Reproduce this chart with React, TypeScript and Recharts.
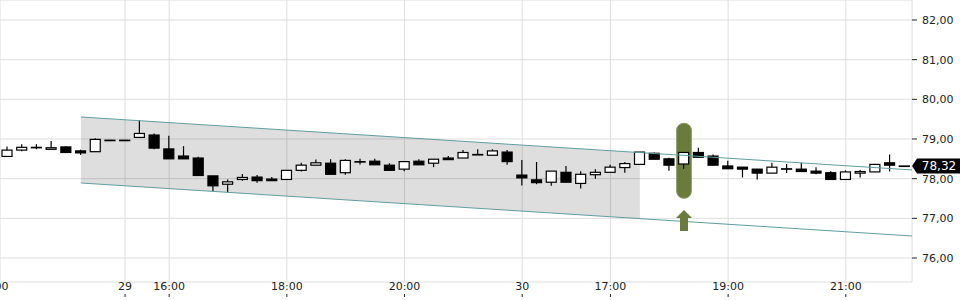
import React from 'react';
import {
  ComposedChart,
  Bar,
  Area,
  XAxis,
  YAxis,
  CartesianGrid,
  ReferenceLine,
  ReferenceArea,
  ReferenceDot
} from 'recharts';

// 15-minute candles
const OPEN = [
  78.56, 78.72, 78.79, 78.74, 78.80, 78.70, 78.68, 78.97, 78.97, 79.04,
  79.10, 78.75, 78.57, 78.52, 78.07, 77.86, 77.98, 78.04, 77.99, 77.98,
  78.21, 78.34, 78.39, 78.15, 78.43, 78.44, 78.34, 78.24, 78.44, 78.39,
  78.52, 78.52, 78.61, 78.59, 78.67, 78.09, 77.97, 77.91, 78.16, 77.88,
  78.10, 78.16, 78.28, 78.36, 78.64, 78.50, 78.37, 78.66, 78.57, 78.32,
  78.29, 78.24, 78.14, 78.25, 78.24, 78.19, 78.15, 77.98, 78.14, 78.17,
  78.40, 78.32
];
const HIGH = [
  78.81, 78.87, 78.87, 78.95, 78.82, 78.73, 79.02, 78.97, 78.97, 79.48,
  79.14, 79.08, 78.82, 78.55, 78.07, 77.98, 78.12, 78.09, 78.04, 78.21,
  78.40, 78.48, 78.49, 78.49, 78.50, 78.50, 78.39, 78.43, 78.49, 78.49,
  78.57, 78.72, 78.74, 78.74, 78.72, 78.47, 78.42, 78.19, 78.32, 78.19,
  78.24, 78.35, 78.42, 78.67, 78.66, 78.53, 78.66, 78.78, 78.61, 78.45,
  78.29, 78.24, 78.40, 78.37, 78.40, 78.29, 78.19, 78.21, 78.22, 78.36,
  78.61, 78.32
];
const LOW = [
  78.56, 78.69, 78.74, 78.74, 78.66, 78.60, 78.68, 78.97, 78.97, 79.04,
  78.74, 78.50, 78.50, 78.08, 77.69, 77.65, 77.95, 77.90, 77.95, 77.98,
  78.18, 78.34, 78.11, 78.10, 78.36, 78.35, 78.21, 78.19, 78.35, 78.29,
  78.48, 78.52, 78.61, 78.59, 78.35, 77.83, 77.86, 77.82, 77.91, 77.75,
  78.00, 78.16, 78.15, 78.36, 78.49, 78.20, 78.25, 78.54, 78.34, 78.25,
  78.03, 77.98, 78.14, 78.14, 78.18, 78.11, 77.98, 77.98, 78.03, 78.17,
  78.18, 78.32
];
const CLOSE = [
  78.72, 78.79, 78.79, 78.78, 78.66, 78.65, 78.99, 78.97, 78.97, 79.14,
  78.77, 78.50, 78.50, 78.08, 77.82, 77.92, 78.03, 77.95, 77.95, 78.21,
  78.34, 78.40, 78.11, 78.46, 78.43, 78.35, 78.21, 78.43, 78.35, 78.49,
  78.48, 78.66, 78.61, 78.70, 78.43, 78.02, 77.90, 78.19, 77.91, 78.11,
  78.16, 78.29, 78.38, 78.67, 78.49, 78.34, 78.66, 78.54, 78.34, 78.25,
  78.24, 78.14, 78.29, 78.25, 78.18, 78.14, 77.98, 78.17, 78.18, 78.36,
  78.34, 78.32
];

// candle slot of each x tick, and its label
const X_TICKS = [0, 9, 12, 20, 28, 36, 42, 50, 58];
const X_TICK_LABELS = ['20:00', '29', '16:00', '18:00', '20:00', '30', '17:00', '19:00', '21:00'];
const Y_TICKS = [76, 77, 78, 79, 80, 81, 82];

const LAST_PRICE = 78.32;

// trend channel
const CHANNEL_UPPER = [{ x: 6, y: 79.555 }, { x: 62.5, y: 78.22 }];
const CHANNEL_LOWER = [{ x: 6, y: 77.891 }, { x: 62.5, y: 76.555 }];
const CHANNEL_BAND = [
  { x: 6, band: [77.891, 79.555] },
  { x: 44, band: [76.992, 78.656] }
];

// breakout signal
const SIGNAL_INDEX = 47;
const SIGNAL_RANGE = [77.505, 79.396];
const SIGNAL_ARROW_TIP = 77.21;

const candles = OPEN.map((open, i) => ({
  x: i + 1,
  open,
  high: HIGH[i],
  low: LOW[i],
  close: CLOSE[i],
  range: [LOW[i], HIGH[i]]
}));

const FONT = '"DejaVu Sans", sans-serif';
const OLIVE = '#6a7b3b';

// eslint-disable-next-line @typescript-eslint/no-explicit-any
const Candle = (props: any) => {
  const { x, y, width, height, payload } = props;
  const { open, close, high, low } = payload;
  const top = height >= 0 ? y : y + height;
  const h = Math.abs(height);
  const span = high - low;
  const yOf = (v: number) => (span > 0 ? top + ((high - v) / span) * h : top);
  const cx = x + width / 2;
  const up = close >= open;
  const bodyTop = yOf(Math.max(open, close));
  const bodyBottom = yOf(Math.min(open, close));
  return (
    <g>
      {span > 0 && <line x1={cx} x2={cx} y1={top} y2={top + h} stroke="#000" strokeWidth={1.2} />}
      <rect
        x={x}
        y={bodyTop}
        width={width}
        height={Math.max(bodyBottom - bodyTop, 0.5)}
        fill={up ? '#fff' : '#000'}
        stroke="#000"
        strokeWidth={1.2}
      />
    </g>
  );
};

// eslint-disable-next-line @typescript-eslint/no-explicit-any
const TimeTick = (props: any) => {
  const { x, y, payload } = props;
  const label = X_TICK_LABELS[X_TICKS.indexOf(payload.value)];
  return (
    <g>
      <text x={x} y={y + 8} textAnchor="middle" fontSize={11} fontFamily={FONT} fill="#222">
        {label}
      </text>
      <line x1={x} x2={x} y1={y + 12} y2={y + 15} stroke="#222" strokeWidth={1} />
    </g>
  );
};

// eslint-disable-next-line @typescript-eslint/no-explicit-any
const SignalPill = (props: any) => {
  const { x, y, width, height } = props;
  return (
    <rect x={x} y={y} width={width} height={height} rx={7} ry={7} fill={OLIVE} stroke="#8c9a62" strokeWidth={1} />
  );
};

// eslint-disable-next-line @typescript-eslint/no-explicit-any
const SignalArrow = (props: any) => {
  const { cx, cy } = props;
  const d = `M${cx},${cy} L${cx + 8},${cy + 8} L${cx + 4},${cy + 8} L${cx + 4},${cy + 21} L${cx - 4},${cy + 21} L${cx - 4},${cy + 8} L${cx - 8},${cy + 8} Z`;
  return <path d={d} fill={OLIVE} />;
};

// eslint-disable-next-line @typescript-eslint/no-explicit-any
const PriceBadge = (props: any) => {
  const { cx, cy } = props;
  const d = `M${cx},${cy} L${cx + 5},${cy - 7.5} L${cx + 48},${cy - 7.5} L${cx + 48},${cy + 7.5} L${cx + 5},${cy + 7.5} Z`;
  return (
    <g>
      <path d={d} fill="#000" />
      <text x={cx + 27} y={cy} dy="0.36em" textAnchor="middle" fontSize={12} fontFamily={FONT} fill="#fff">
        {LAST_PRICE.toFixed(2).replace('.', ',')}
      </text>
    </g>
  );
};

export default function App() {
  return (
    <div style={{ position: 'absolute', left: 0, top: 0, width: 960, height: 300 }}>
      <ComposedChart
        width={960}
        height={300}
        data={candles}
        margin={{ top: 0, right: 0, left: 0, bottom: 0 }}
        style={{ fontFamily: FONT }}
      >
        <CartesianGrid stroke="#dedede" strokeWidth={1} />
        <XAxis
          dataKey="x"
          type="number"
          domain={[0.5, 62.5]}
          allowDataOverflow
          ticks={X_TICKS}
          interval={0}
          height={18}
          tickSize={0}
          tickMargin={0}
          tickLine={false}
          axisLine={false}
          tick={<TimeTick />}
        />
        <YAxis
          orientation="right"
          type="number"
          domain={[75.395, 82.504]}
          allowDataOverflow
          ticks={Y_TICKS}
          interval={0}
          width={48}
          tickSize={5}
          tickMargin={5}
          axisLine={false}
          tickLine={{ stroke: '#222' }}
          tick={{ fill: '#222', fontSize: 11, fontFamily: FONT }}
          tickFormatter={(v: number) => v.toFixed(2).replace('.', ',')}
        />
        <Area
          data={CHANNEL_BAND}
          dataKey="band"
          type="linear"
          stroke="none"
          fill="#000"
          fillOpacity={0.13}
          isAnimationActive={false}
          activeDot={false}
          dot={false}
        />
        <ReferenceLine segment={CHANNEL_UPPER} stroke="#5f9ea0" strokeWidth={1} ifOverflow="visible" />
        <ReferenceLine segment={CHANNEL_LOWER} stroke="#5f9ea0" strokeWidth={1} ifOverflow="visible" />
        <ReferenceArea
          x1={SIGNAL_INDEX - 0.5}
          x2={SIGNAL_INDEX + 0.5}
          y1={SIGNAL_RANGE[0]}
          y2={SIGNAL_RANGE[1]}
          shape={<SignalPill />}
          ifOverflow="visible"
        />
        <ReferenceDot x={SIGNAL_INDEX} y={SIGNAL_ARROW_TIP} r={0} shape={<SignalArrow />} ifOverflow="visible" />
        <Bar dataKey="range" barSize={10} shape={<Candle />} isAnimationActive={false} />
        <ReferenceDot x={62.5} y={LAST_PRICE} r={0} shape={<PriceBadge />} ifOverflow="visible" />
      </ComposedChart>
    </div>
  );
}
